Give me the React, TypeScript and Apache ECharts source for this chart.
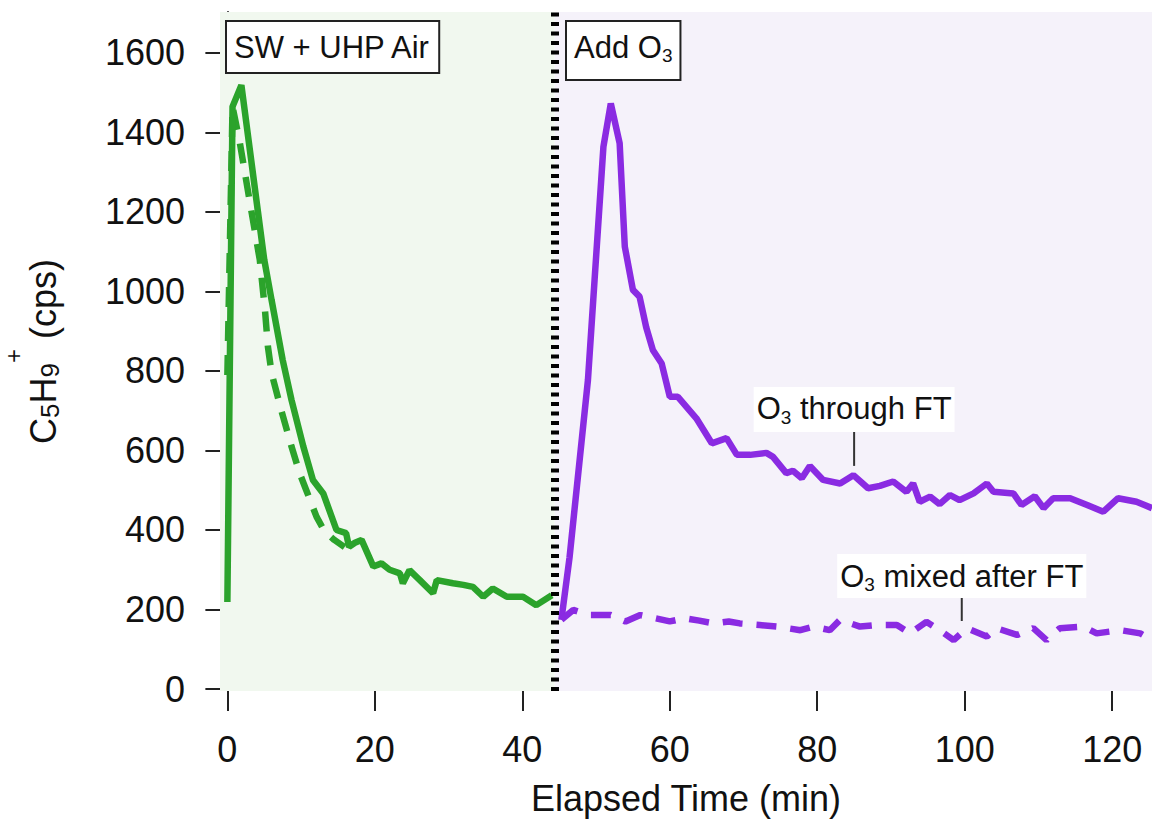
import React, { useEffect, useRef } from 'react';
import * as echarts from 'echarts';

const FONT = '"Liberation Sans", Arial, sans-serif';

const xTicks = [0, 20, 40, 60, 80, 100, 120];
const yTicks = [0, 200, 400, 600, 800, 1000, 1200, 1400, 1600];

const greenSolid: [number, number][] = [
  [0, 219], [0.7, 1465], [1.9, 1519], [4.15, 1200], [5.0, 1080], [6, 978], [7.5, 828],
  [8.7, 727], [10.3, 610], [11.6, 526], [13, 492], [14.8, 400], [16.1, 392], [16.5, 358],
  [17.3, 368], [18.2, 375], [19.8, 308], [20.9, 316], [22.0, 300], [23.4, 291], [23.8, 266],
  [24.7, 299], [26.1, 274], [27.9, 241], [28.4, 274], [30.6, 266], [32, 262], [33.3, 257],
  [34.7, 232], [36, 253], [37.9, 232], [40.1, 232], [41.9, 211], [44, 236],
];

const greenDashed: [number, number][] = [
  [0, 790], [0.7, 1465], [1.7, 1373], [3.0, 1230], [4.4, 1079], [5.1, 953], [5.5, 861],
  [6, 794], [7.3, 702], [8.7, 610], [9.8, 543], [10.7, 500], [12.1, 433], [13.2, 396],
  [14.5, 375], [15.9, 357],
];

const purpleSolid: [number, number][] = [
  [45.3, 174], [46.4, 330], [48.9, 777], [49.8, 1029], [51, 1364], [52, 1473], [53.2, 1373],
  [53.9, 1113], [55, 1004], [55.9, 987], [56.8, 910], [57.7, 853], [58.9, 819], [60, 735],
  [61.1, 735], [63.6, 681], [65.7, 618], [67.7, 631], [69.1, 589], [70.9, 589], [73.1, 594],
  [74, 584], [75.8, 543], [76.7, 549], [77.9, 530], [79, 561], [80.8, 526], [83.1, 517],
  [84.9, 538], [86.9, 505], [88.5, 511], [90.3, 522], [92.1, 496], [93, 517], [93.9, 471],
  [95.3, 484], [96.6, 465], [98, 488], [99.3, 475], [101.2, 492], [103, 517], [103.9, 496],
  [106.6, 492], [107.7, 463], [109.5, 485], [110.7, 455], [112, 480], [114.3, 480],
  [116.6, 463], [118.8, 446], [120.8, 480], [123.3, 471], [125.4, 455],
];

const purpleDashed: [number, number][] = [
  [45.3, 174], [46.9, 199], [49, 186], [52, 186], [54, 170], [56, 186], [58, 178], [60, 170],
  [62, 178], [64, 172], [66, 165], [68, 170], [69.5, 165], [72.2, 161], [74.5, 157],
  [77.7, 148], [79.5, 157], [81.7, 148], [83.1, 174], [85.8, 157], [88.1, 161], [90.8, 161],
  [92.6, 140], [94.8, 169], [96.6, 148], [98.5, 123], [100.3, 153], [103, 132], [104.3, 153],
  [107.1, 136], [109.3, 153], [111.1, 123], [112.9, 153], [116.1, 157], [117.9, 140],
  [121.1, 148], [123.8, 140], [125.4, 123],
];

const phaseBoundary = 44.4;
const xMin = -1;
const xMax = 125.4;
const yMin = -5;
const yMax = 1703;

const GREEN = '#2ba32b';
const PURPLE = '#8a2be2';

const subRich = (fs: number) => ({
  a: { fontSize: fs, lineHeight: 36, fontFamily: FONT, color: '#111' },
  s: { fontSize: 19, lineHeight: 36, fontFamily: FONT, color: '#111', padding: [17, 0, 0, 0] },
});

export default function App() {
  const ref = useRef<HTMLDivElement>(null);
  useEffect(() => {
    const chart = echarts.init(ref.current!, null, { renderer: 'svg' });
    const option: any = {
      animation: false,
      backgroundColor: '#fff',
      grid: { left: 220, right: 0, top: 12, bottom: 129, containLabel: false, outerBoundsMode: 'none' },
      xAxis: {
        type: 'value',
        min: xMin,
        max: xMax,
        offset: 3,
        name: 'Elapsed Time (min)',
        nameLocation: 'middle',
        nameGap: 86,
        nameMoveOverlap: false,
        nameTextStyle: { fontSize: 36, fontFamily: FONT, color: '#111', lineHeight: 36 },
        axisLine: { show: true, lineStyle: { color: '#222', width: 2 } },
        axisTick: { show: true, length: 22, lineStyle: { color: '#222', width: 2 }, customValues: xTicks },
        axisLabel: {
          fontSize: 36, fontFamily: FONT, color: '#111', margin: 37, customValues: xTicks,
          formatter: (v: number) => String(v),
        },
        splitLine: { show: false },
      },
      yAxis: {
        type: 'value',
        min: yMin,
        max: yMax,
        name: '{a|C}{s|5}{a|H}{s|9}{p|+}{a| (cps)}',
        nameLocation: 'middle',
        nameRotate: 90,
        nameGap: 157,
        nameMoveOverlap: false,
        nameTextStyle: {
          fontFamily: FONT,
          color: '#111',
          rich: {
            a: { fontSize: 36, lineHeight: 40, fontFamily: FONT, color: '#111' },
            s: { fontSize: 26, lineHeight: 40, fontFamily: FONT, color: '#111', padding: [14, 0, 0, 0] },
            p: { fontSize: 24, lineHeight: 40, fontFamily: FONT, color: '#111', padding: [0, 0, 60, 0] },
          },
        },
        axisLine: { show: true, lineStyle: { color: '#222', width: 2 } },
        axisTick: { show: true, length: 22, lineStyle: { color: '#222', width: 2 }, customValues: yTicks },
        axisLabel: {
          fontSize: 36, fontFamily: FONT, color: '#111', margin: 35, customValues: yTicks,
          formatter: (v: number) => String(v),
        },
        splitLine: { show: false },
      },
      graphic: [
        {
          type: 'text',
          x: 227,
          y: 22,
          z: 50,
          style: {
            text: 'SW + UHP Air',
            fontSize: 31,
            fontFamily: FONT,
            fill: '#111',
            lineHeight: 36,
            backgroundColor: '#fff',
            borderColor: '#222',
            borderWidth: 2,
            padding: [7, 7, 7, 7],
            align: 'left',
            verticalAlign: 'top',
          },
        },
        {
          type: 'text',
          x: 567,
          y: 22,
          z: 50,
          style: {
            text: '{a|Add O}{s|3}',
            rich: subRich(31),
            fontSize: 31,
            fontFamily: FONT,
            fill: '#111',
            lineHeight: 36,
            backgroundColor: '#fff',
            borderColor: '#222',
            borderWidth: 2,
            padding: [7, 7, 14, 7],
            align: 'left',
            verticalAlign: 'top',
          },
        },
      ],
      series: [
        {
          name: 'SW dashed',
          type: 'line',
          data: greenDashed,
          showSymbol: false,
          symbol: 'none',
          lineStyle: { color: GREEN, width: 6.5, type: [20, 14] },
          z: 3,
          markArea: {
            silent: true,
            data: [
              [{ xAxis: xMin, itemStyle: { color: '#f1f8ef' } }, { xAxis: phaseBoundary }],
              [{ xAxis: phaseBoundary, itemStyle: { color: '#f5f2fa' } }, { xAxis: xMax }],
            ],
          },
          markLine: {
            silent: true,
            symbol: ['none', 'none'],
            label: { show: false },
            lineStyle: { color: '#000', width: 8, type: [4, 5.5], cap: 'butt' },
            data: [{ xAxis: phaseBoundary }],
          },
        },
        {
          name: 'SW solid',
          type: 'line',
          data: greenSolid,
          showSymbol: false,
          symbol: 'none',
          lineStyle: { color: GREEN, width: 6.5 },
          z: 3,
        },
        {
          name: 'O3 through FT',
          type: 'line',
          data: purpleSolid,
          showSymbol: false,
          symbol: 'none',
          lineStyle: { color: PURPLE, width: 6.5 },
          z: 3,
          markPoint: {
            silent: true,
            symbol: 'rect',
            symbolSize: [2, 34],
            itemStyle: { color: '#333' },
            label: {
              show: true,
              position: 'top',
              distance: 0,
              formatter: '{a|O}{s|3}{a| through FT}',
              backgroundColor: '#fff',
              padding: [4, 3, 5, 3],
              rich: subRich(31),
            },
            data: [{ coord: [85, 604] }],
          },
        },
        {
          name: 'O3 mixed after FT',
          type: 'line',
          data: purpleDashed,
          showSymbol: false,
          symbol: 'none',
          lineStyle: { color: PURPLE, width: 6.5, type: [20, 14] },
          z: 3,
          markPoint: {
            silent: true,
            symbol: 'rect',
            symbolSize: [2, 23],
            itemStyle: { color: '#333' },
            label: {
              show: true,
              position: 'top',
              distance: 0,
              formatter: '{a|O}{s|3}{a| mixed after FT}',
              backgroundColor: '#fff',
              padding: [4, 3, 4, 3],
              rich: subRich(31),
            },
            data: [{ coord: [99.6, 200] }],
          },
        },
      ],
    };
    chart.setOption(option);
    return () => chart.dispose();
  }, []);
  return (
    <div
      ref={ref}
      style={{ position: 'absolute', left: 0, top: 0, width: 1152, height: 820, background: '#fff' }}
    />
  );
}
